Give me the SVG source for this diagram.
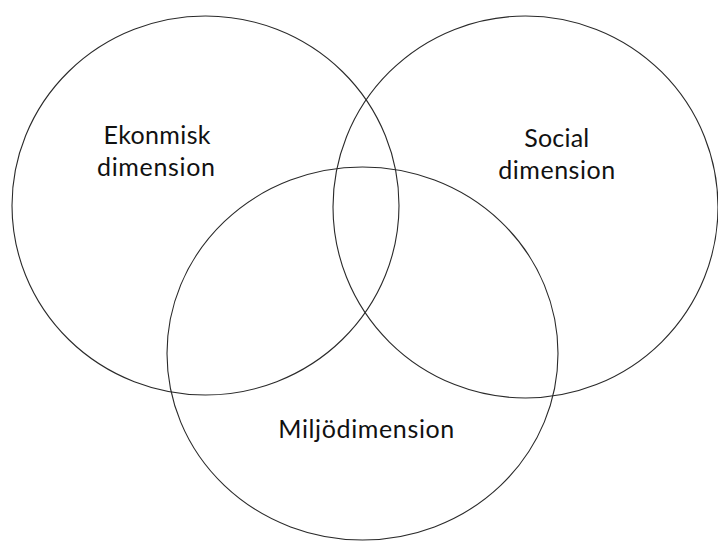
<svg xmlns="http://www.w3.org/2000/svg" width="718" height="542" viewBox="0 0 718 542">
<style>
.c{fill:none;stroke:#2a2a2a;stroke-width:1.1}
.t{font-family:Lato,"Liberation Sans",sans-serif;font-size:25px;fill:#111;text-anchor:middle}
</style>
<rect width="718" height="542" fill="#fff"/>
<g id="ekonomisk">
<ellipse class="c" cx="205.5" cy="205.5" rx="193.5" ry="189.5"/>
<text class="t" x="157" y="144" textLength="107">Ekonmisk</text>
<text class="t" x="156" y="176" textLength="118">dimension</text>
</g>
<g id="social">
<ellipse class="c" cx="525.5" cy="207" rx="192.5" ry="191"/>
<text class="t" x="556.7" y="147" textLength="65">Social</text>
<text class="t" x="556.7" y="178.5" textLength="117">dimension</text>
</g>
<g id="miljo">
<ellipse class="c" cx="362.5" cy="353.5" rx="195.5" ry="186.5"/>
<text class="t" x="366.3" y="438" textLength="176">Miljödimension</text>
</g>
<g id="connectors"/>
</svg>
